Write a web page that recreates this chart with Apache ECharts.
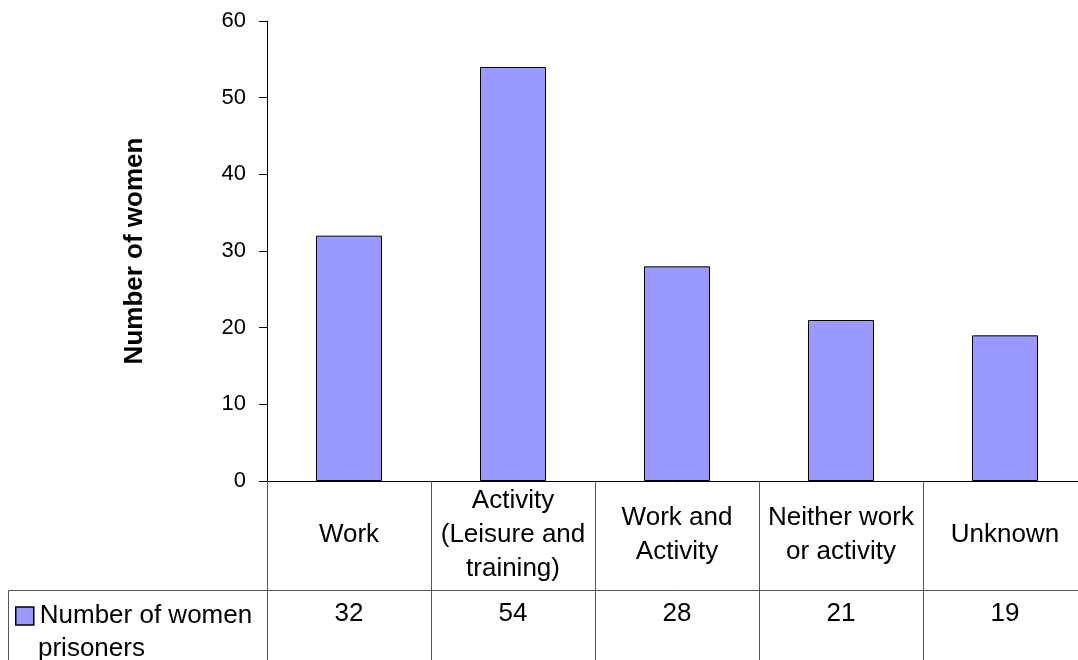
<!DOCTYPE html>
<html>
<head>
<meta charset="utf-8">
<script src="https://cdn.jsdelivr.net/npm/echarts@6/dist/echarts.min.js"></script>
<style>
html,body{margin:0;padding:0;background:#fff;}
#chart{width:1078px;height:660px;}
</style>
</head>
<body>
<div id="chart"></div>
<script>
var categories = ['Work', 'Activity\n(Leisure and\ntraining)', 'Work and\nActivity', 'Neither work\nor activity', 'Unknown'];
var values = [32, 54, 28, 21, 19];
var seriesName = 'Number of women prisoners';
var legendLines = ['Number of women', 'prisoners'];
var yAxisTitle = 'Number of women';
var yMin = 0, yMax = 60, yInterval = 10;

var FONT = 'Liberation Sans, Arial, sans-serif';
var chart = echarts.init(document.getElementById('chart'), null, {renderer: 'canvas'});
chart.setOption({
  animation: false,
  backgroundColor: '#fff',
  grid: {left: 267, top: 21, width: 820, height: 460, containLabel: false, outerBoundsMode: 'none'},
  legend: {
    show: true,
    left: 15, top: 603,
    itemWidth: 18, itemHeight: 18, itemGap: 0,
    icon: 'rect',
    padding: 0,
    itemStyle: {borderColor: '#000', borderWidth: 1.5},
    textStyle: {fontFamily: FONT, fontSize: 26, color: '#000', padding: [0, 0, 0, 1]},
    formatter: function () { return legendLines[0]; },
    data: [seriesName]
  },
  xAxis: [{
    type: 'category',
    data: categories,
    axisLine: {show: true, lineStyle: {color: '#000', width: 1}},
    axisTick: {show: true, length: 179, lineStyle: {color: '#555', width: 1}},
    axisLabel: {
      fontFamily: FONT, fontSize: 26, color: '#000', lineHeight: 34,
      margin: 54, verticalAlign: 'middle', align: 'center', interval: 0
    },
    splitLine: {show: false}
  }, {
    type: 'category',
    position: 'bottom',
    offset: 109,
    data: values.map(String),
    axisLine: {show: true, lineStyle: {color: '#555', width: 1}},
    axisTick: {show: false},
    axisLabel: {fontFamily: FONT, fontSize: 26, color: '#000', margin: 11, interval: 0},
    splitLine: {show: false}
  }],
  yAxis: {
    type: 'value',
    min: yMin, max: yMax, interval: yInterval,
    name: yAxisTitle,
    nameLocation: 'middle',
    nameGap: 119,
    nameRotate: 90,
    nameTextStyle: {fontFamily: FONT, fontSize: 26, fontWeight: 'bold', color: '#000'},
    axisLine: {show: true, lineStyle: {color: '#000', width: 1}},
    axisTick: {show: true, inside: false, length: 8, lineStyle: {color: '#000'}},
    axisLabel: {fontFamily: FONT, fontSize: 22, color: '#000', margin: 21},
    splitLine: {show: false}
  },
  series: [{
    name: seriesName,
    type: 'bar',
    data: values,
    barWidth: 66,
    itemStyle: {color: '#9999FF', borderColor: '#000', borderWidth: 1}
  }],
  graphic: [
    {type: 'line', shape: {x1: 8.5, y1: 590.5, x2: 267, y2: 590.5}, style: {stroke: '#555', lineWidth: 1}},
    {type: 'line', shape: {x1: 8.5, y1: 590.5, x2: 8.5, y2: 660}, style: {stroke: '#555', lineWidth: 1}},
    {type: 'text', left: 38, top: 636, style: {text: legendLines[1], fontFamily: FONT, fontSize: 26, fill: '#000'}}
  ]
});
</script>
</body>
</html>
